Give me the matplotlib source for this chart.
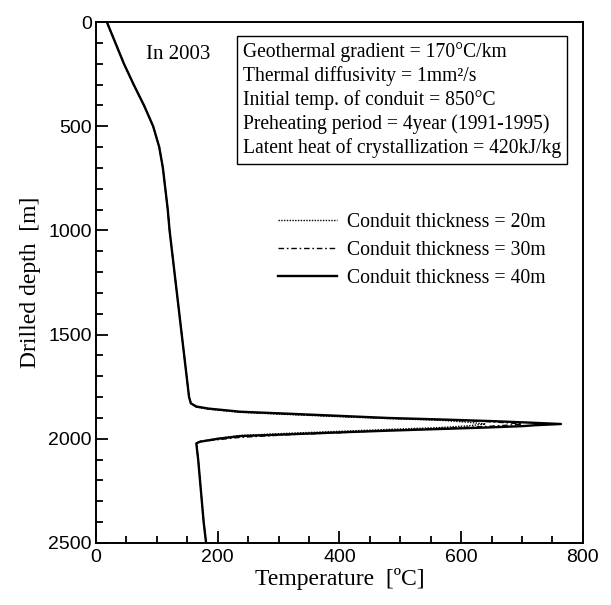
import numpy as np
import matplotlib.pyplot as plt
from matplotlib.ticker import MultipleLocator

# temperature profile above the conduit (same for all thicknesses)
depth_top = [0, 100, 200, 300, 400, 500, 600, 700, 800, 900, 1000, 1100, 1200,
             1300, 1400, 1500, 1600, 1700, 1800, 1830]
temp_top = [18, 32, 46, 62, 79, 94, 104, 110, 114, 118, 121, 125, 129,
            133, 137, 141, 145, 149, 153, 156]

# temperature profile below the conduit
depth_bot = [2022, 2050, 2100, 2200, 2300, 2400, 2500]
temp_bot = [165, 166, 168, 171, 174, 177, 181]

# spike through the conduit, one per thickness
depth_20 = [1848, 1858, 1873, 1884, 1894, 1903, 1911, 1920, 1929,
            1938, 1946, 1955, 1964, 1973, 1984, 1998, 2012]
temp_20 = [165, 185, 237, 320, 401, 480, 565, 610, 640,
           610, 565, 480, 401, 320, 237, 200, 171]

depth_30 = [1846, 1856, 1871, 1882, 1892, 1901, 1909, 1917, 1924, 1929,
            1934, 1941, 1950, 1959, 1971, 1980, 1993, 2013]
temp_30 = [165, 185, 237, 320, 401, 480, 565, 640, 680, 700,
           680, 640, 565, 480, 401, 320, 237, 171]

depth_40 = [1845, 1855, 1870, 1880, 1890, 1900, 1907, 1915, 1922, 1929,
            1935, 1939, 1946, 1953, 1961, 1969, 1978, 1987, 2000, 2014]
temp_40 = [165, 185, 237, 320, 401, 480, 565, 650, 710, 764,
           720, 702, 640, 565, 480, 401, 320, 237, 200, 171]

labels = ['Conduit thickness = 20m', 'Conduit thickness = 30m', 'Conduit thickness = 40m']

info_lines = ['Geothermal gradient = 170\u00b0C/km',
              'Thermal diffusivity = 1mm\u00b2/s',
              'Initial temp. of conduit = 850\u00b0C',
              'Preheating period = 4year (1991-1995)',
              'Latent heat of crystallization = 420kJ/kg']

serif = 'Liberation Serif'
sans = 'Liberation Sans'

fig = plt.figure(figsize=(6.11, 6.05), dpi=100)
ax = fig.add_axes([0.157, 0.1025, 0.797, 0.861])

def full(d, t):
    return depth_top + d + depth_bot, temp_top + t + temp_bot

d40, t40 = full(depth_40, temp_40)
d30, t30 = full(depth_30, temp_30)
d20, t20 = full(depth_20, temp_20)

l20, = ax.plot(t20, d20, color='k', lw=1.0, linestyle=(0, (1, 1)))
l30, = ax.plot(t30, d30, color='k', lw=1.0, linestyle=(0, (4, 2, 1.2, 2)))
l40, = ax.plot(t40, d40, color='k', lw=1.7)

ax.set_xlim(0, 800)
ax.set_ylim(2500, 0)
ax.xaxis.set_major_locator(MultipleLocator(200))
ax.xaxis.set_minor_locator(MultipleLocator(50))
ax.yaxis.set_major_locator(MultipleLocator(500))
ax.yaxis.set_minor_locator(MultipleLocator(100))
ax.tick_params(which='both', direction='in', width=1.3, top=False, right=False)
ax.tick_params(which='major', length=8.5, labelsize=14)
ax.tick_params(which='minor', length=5)
ax.tick_params(axis='x', which='major', pad=4)
ax.tick_params(axis='y', which='major', pad=3)
for lab in ax.get_xticklabels() + ax.get_yticklabels():
    lab.set_fontfamily(sans)
for s in ax.spines.values():
    s.set_linewidth(1.4)

ax.set_xlabel('Temperature  [\u00baC]', family=serif, fontsize=17, labelpad=2)
ax.set_ylabel('Drilled depth  [m]', family=serif, fontsize=17, labelpad=5)

ax.text(0.103, 0.937, 'In 2003', transform=ax.transAxes, family=serif,
        fontsize=15, va='center', ha='left')

ax.text(0.302, 0.962, '\n'.join(info_lines), transform=ax.transAxes,
        family=serif, fontsize=14.1, va='top', ha='left', linespacing=1.28,
        bbox=dict(boxstyle='square,pad=0.3', fc='white', ec='k', lw=1.0))

leg = ax.legend([l20, l30, l40], labels, loc='center left',
                bbox_to_anchor=(0.374, 0.562), frameon=False,
                borderaxespad=0, borderpad=0,
                prop={'family': serif, 'size': 14.2}, handlelength=3.0,
                handletextpad=0.5, labelspacing=0.45)

fig.savefig('out.png', dpi=100)
